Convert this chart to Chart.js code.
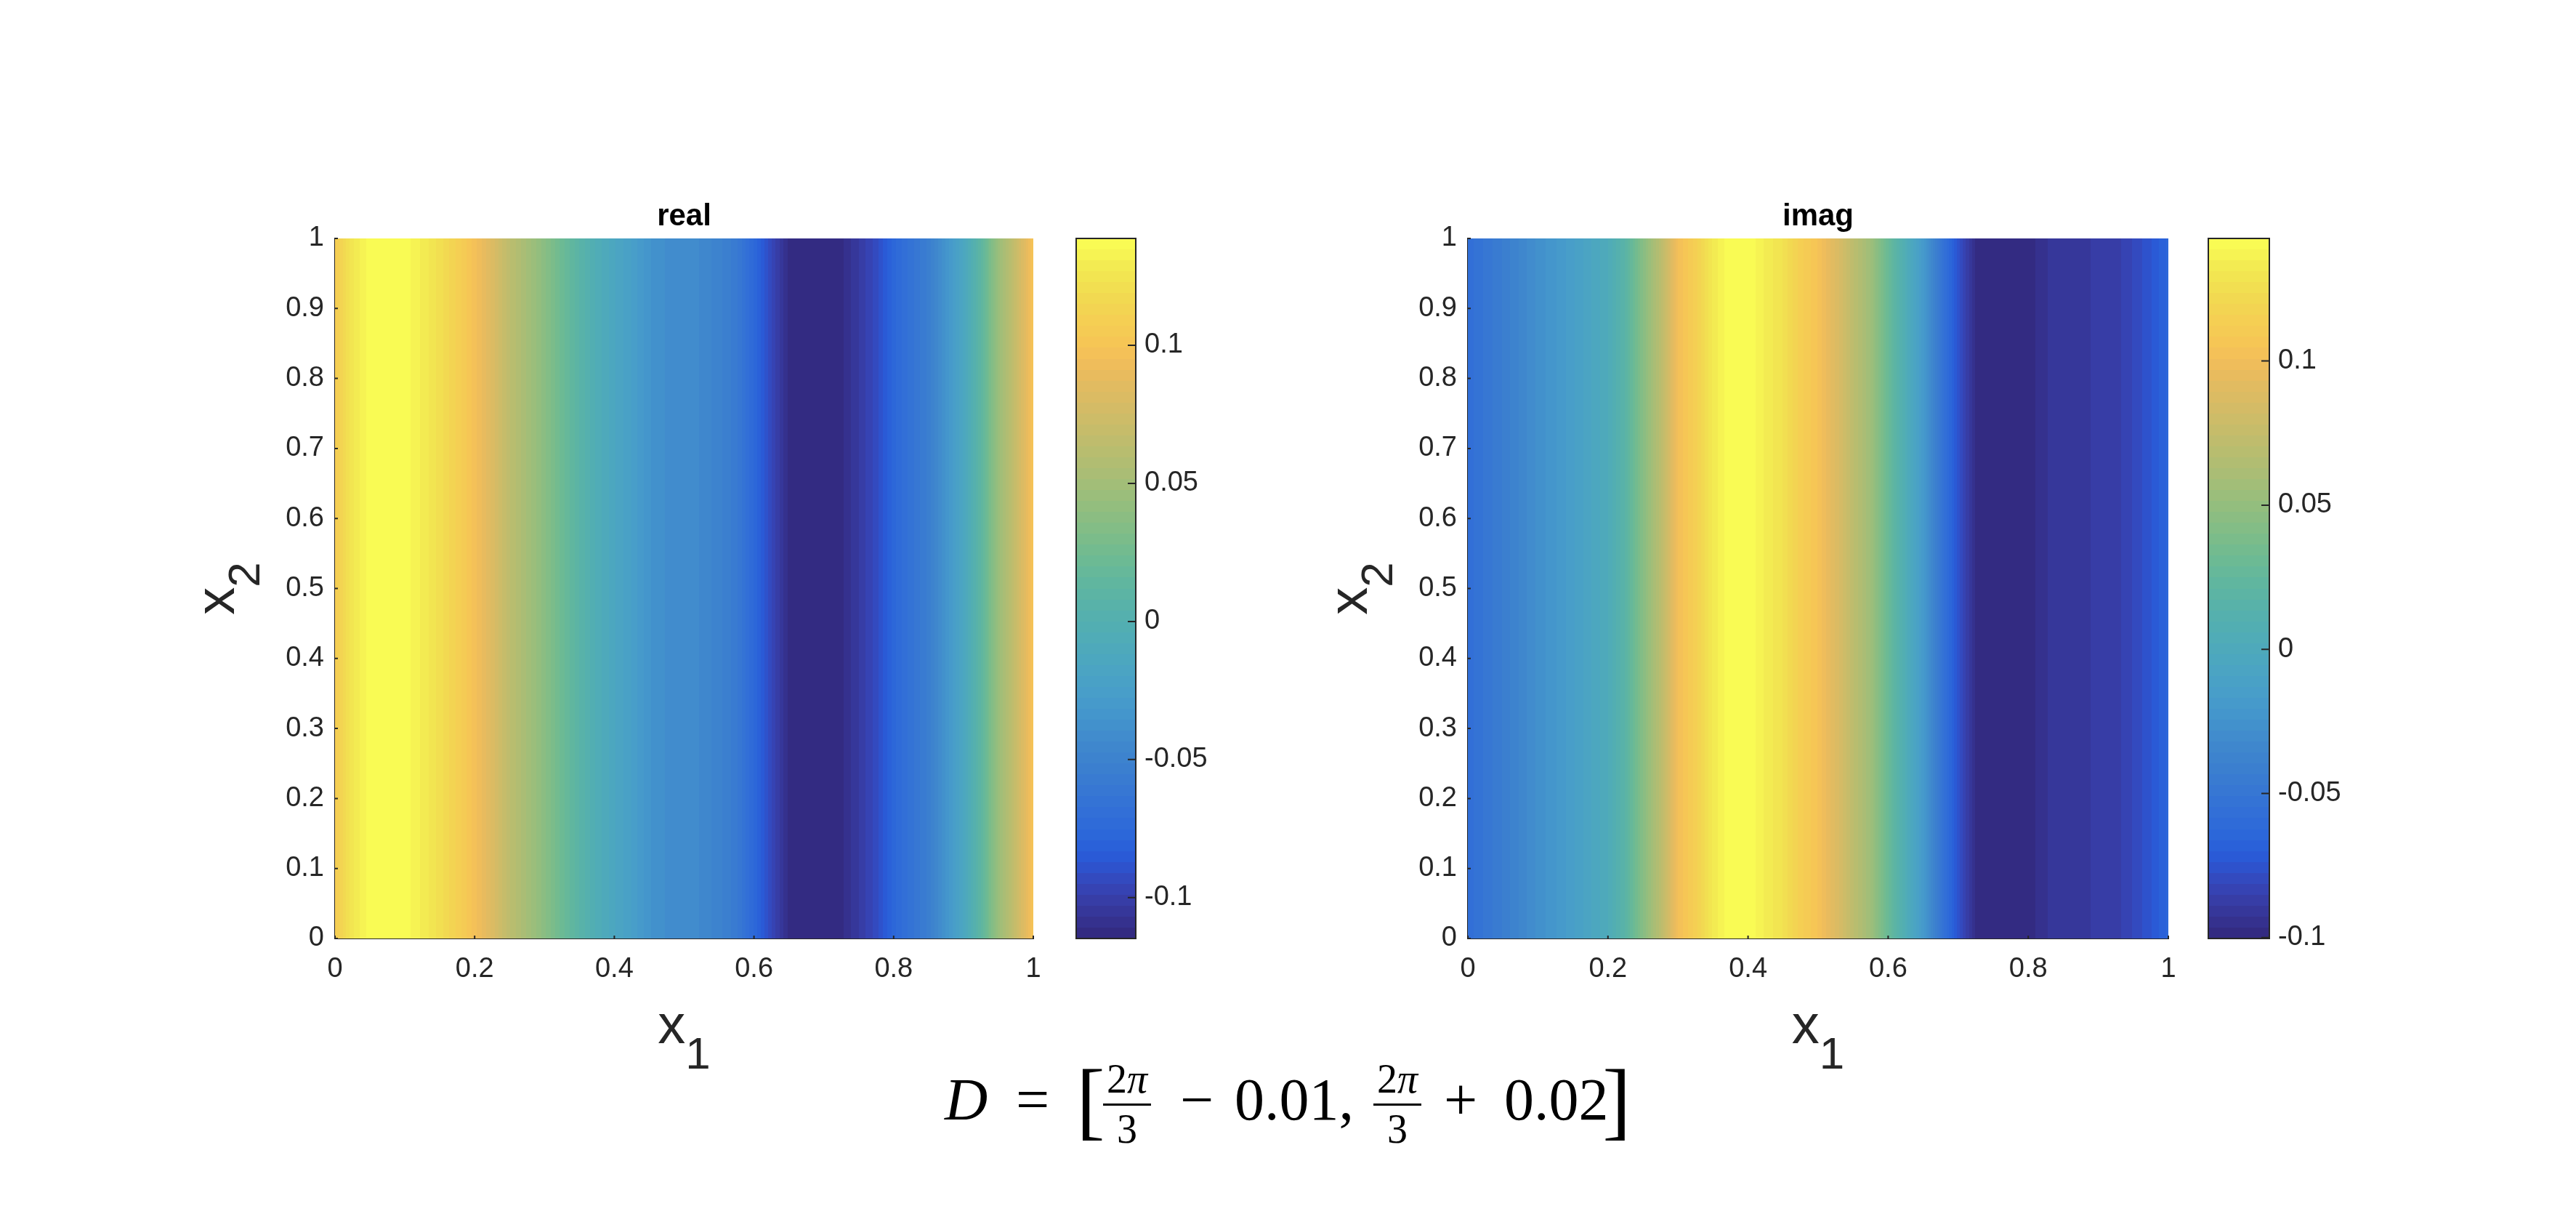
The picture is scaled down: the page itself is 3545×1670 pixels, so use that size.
<!DOCTYPE html>
<html><head><meta charset="utf-8">
<script src="https://cdn.jsdelivr.net/npm/chart.js@4.4.1/dist/chart.umd.min.js"></script>
<style>
html,body{margin:0;padding:0;background:#fff;width:3545px;height:1670px;overflow:hidden}
canvas{position:absolute;left:0;top:0}
</style></head><body>
<canvas id="heatL" width="3545" height="1670"></canvas>
<canvas id="cbL" width="3545" height="1670"></canvas>
<canvas id="heatR" width="3545" height="1670"></canvas>
<canvas id="cbR" width="3545" height="1670"></canvas>
<script>
// ---------------- data ----------------
const x1Grid = [0,0.025,0.05,0.075,0.1,0.125,0.15,0.175,0.2,0.225,0.25,0.275,0.3,0.325,0.35,0.375,0.4,0.425,0.45,0.475,0.5,0.525,0.55,0.575,0.6,0.625,0.65,0.675,0.7,0.725,0.75,0.775,0.8,0.825,0.85,0.875,0.9,0.925,0.95,0.975,1];
const realValues = [0.106,0.126,0.137,0.1387,0.137,0.130,0.121,0.110,0.097,0.082,0.064,0.051,0.037,0.022,0.008,-0.005,-0.015,-0.024,-0.035,-0.040,-0.041,-0.044,-0.050,-0.058,-0.076,-0.095,-0.112,-0.1148,-0.1148,-0.112,-0.103,-0.093,-0.077,-0.065,-0.054,-0.035,-0.015,0.012,0.045,0.070,0.100];
const imagValues = [-0.057,-0.050,-0.043,-0.035,-0.027,-0.021,-0.014,-0.006,0.002,0.018,0.044,0.069,0.101,0.114,0.132,0.1425,0.1425,0.134,0.127,0.114,0.104,0.089,0.071,0.055,0.029,0.005,-0.019,-0.050,-0.076,-0.097,-0.1003,-0.1003,-0.099,-0.093,-0.090,-0.090,-0.088,-0.087,-0.081,-0.074,-0.065];
const realClim = [-0.1148, 0.1387];
const imagClim = [-0.1003, 0.1425];
const panelTitles = ['real', 'imag'];
const x1Ticks = [0,0.2,0.4,0.6,0.8,1];
const x1TickLabels = ['0','0.2','0.4','0.6','0.8','1'];
const x2Ticks = [0,0.1,0.2,0.3,0.4,0.5,0.6,0.7,0.8,0.9,1];
const x2TickLabels = ['0','0.1','0.2','0.3','0.4','0.5','0.6','0.7','0.8','0.9','1'];
const cbTicks = [-0.1,-0.05,0,0.05,0.1];
const cbTickLabels = ['-0.1','-0.05','0','0.05','0.1'];

// ---------------- style ----------------
const W = 3545, H = 1670;
const PLOT_TOP = 328, PLOT_BOTTOM = 1291;
const FONT = "'Liberation Sans', Helvetica, Arial, sans-serif";
const SERIF = "'Liberation Serif', 'DejaVu Serif', serif";
const TXT = '#262626';
const TICK_SIZE = 38;
const parula = [[.2081,.1663,.5292],[.2116,.1898,.5777],[.2123,.2138,.6270],[.2081,.2386,.6771],[.1959,.2645,.7279],[.1707,.2919,.7792],[.1253,.3242,.8303],[.0591,.3598,.8683],[.0117,.3875,.8820],[.0060,.4086,.8828],[.0165,.4266,.8786],[.0329,.4430,.8720],[.0498,.4586,.8641],[.0629,.4737,.8554],[.0723,.4887,.8467],[.0779,.5040,.8384],[.0793,.5200,.8312],[.0749,.5375,.8263],[.0641,.5570,.8240],[.0488,.5772,.8228],[.0343,.5966,.8199],[.0265,.6137,.8135],[.0239,.6287,.8038],[.0231,.6418,.7913],[.0228,.6535,.7768],[.0267,.6642,.7607],[.0384,.6743,.7436],[.0590,.6838,.7254],[.0843,.6928,.7062],[.1133,.7015,.6859],[.1453,.7098,.6646],[.1801,.7177,.6424],[.2178,.7250,.6193],[.2586,.7317,.5954],[.3022,.7376,.5712],[.3482,.7424,.5473],[.3953,.7459,.5244],[.4420,.7481,.5033],[.4871,.7491,.4840],[.5300,.7491,.4661],[.5709,.7485,.4494],[.6099,.7473,.4337],[.6473,.7456,.4188],[.6834,.7435,.4044],[.7184,.7411,.3905],[.7525,.7384,.3768],[.7858,.7356,.3633],[.8185,.7327,.3498],[.8507,.7299,.3360],[.8824,.7274,.3217],[.9139,.7258,.3063],[.9450,.7261,.2886],[.9739,.7314,.2666],[.9938,.7455,.2403],[.9990,.7653,.2164],[.9955,.7861,.1967],[.9880,.8066,.1794],[.9789,.8271,.1633],[.9697,.8481,.1475],[.9626,.8705,.1309],[.9589,.8949,.1132],[.9598,.9218,.0948],[.9661,.9514,.0755],[.9763,.9831,.0538]];
function lin(c){return c<=0.04045?c/12.92:Math.pow((c+0.055)/1.055,2.4);}
function enc(c){c=Math.max(0,Math.min(1,c));return c<=0.0031308?12.92*c:1.055*Math.pow(c,1/2.4)-0.055;}
const cmap = parula.map(([r,g,b])=>{
  const R=lin(r),G=lin(g),B=lin(b);
  const rp=0.8225*R+0.1774*G, gp=0.0332*R+0.9669*G, bp=0.0171*R+0.0724*G+0.9108*B;
  return 'rgb('+Math.round(255*enc(rp))+','+Math.round(255*enc(gp))+','+Math.round(255*enc(bp))+')';
});
function colorFor(v, clim){
  let i = Math.floor((v-clim[0])/(clim[1]-clim[0])*cmap.length);
  i = Math.max(0, Math.min(cmap.length-1, i));
  return cmap[i];
}
function interp(xs, ys, x){
  if (x<=xs[0]) return ys[0];
  for (let i=1;i<xs.length;i++){
    if (x<=xs[i]){const t=(x-xs[i-1])/(xs[i]-xs[i-1]);return ys[i-1]+t*(ys[i]-ys[i-1]);}
  }
  return ys[ys.length-1];
}

function drawSubLabel(ctx, cx, cy, main, sub, rotate){
  ctx.save();
  ctx.translate(cx, cy);
  if (rotate) ctx.rotate(-Math.PI/2);
  ctx.fillStyle = TXT; ctx.textBaseline='alphabetic'; ctx.textAlign='left';
  const fMain = '76px '+FONT, fSub = '62px '+FONT;
  ctx.font = fMain; const w1 = ctx.measureText(main).width;
  ctx.font = fSub; const w2 = ctx.measureText(sub).width;
  const x0 = -(w1+w2)/2;
  ctx.font = fMain; ctx.fillText(main, x0, 0);
  ctx.font = fSub; ctx.fillText(sub, x0+w1, 35);
  ctx.restore();
}

function drawEquation(ctx){
  ctx.save();
  ctx.fillStyle='#000'; ctx.textBaseline='alphabetic';
  const base = 1540, main = "82px "+SERIF, small = "56px "+SERIF;
  ctx.font = 'italic '+main; ctx.textAlign='left'; ctx.fillText('D', 1300, base);
  ctx.font = main; ctx.textAlign='center'; ctx.fillText('=', 1421, base);
  ctx.font = "118px "+SERIF; ctx.fillText('[', 1501, 1553); ctx.fillText(']', 2225, 1553);
  const frac = (cx)=>{
    ctx.font = small; const w2 = ctx.measureText('2').width;
    ctx.font = 'italic '+small; const wp = ctx.measureText('\u03C0').width;
    const s = cx-(w2+wp)/2;
    ctx.textAlign='left';
    ctx.font = small; ctx.fillText('2', s, 1503);
    ctx.font = 'italic '+small; ctx.fillText('\u03C0', s+w2, 1503);
    ctx.fillRect(cx-33, 1518, 66, 3);
    ctx.font = small; ctx.textAlign='center'; ctx.fillText('3', cx, 1572);
  };
  frac(1551); frac(1923);
  ctx.font = main; ctx.textAlign='center'; ctx.fillText('\u2212', 1647, base);
  ctx.textAlign='left'; ctx.fillText('0.01,', 1699, base);
  ctx.textAlign='center'; ctx.fillText('+', 2010, base);
  ctx.textAlign='left'; ctx.fillText('0.02', 2070, base);
  ctx.restore();
}

function heatChart(id, title, values, clim, plotLeft, plotRight, withEquation){
  const plugin = {
    id: 'heat_'+id,
    beforeDatasetsDraw(chart){
      const {ctx, chartArea:a, scales:{x, y}} = chart;
      const yTop = y.getPixelForValue(1), yBot = y.getPixelForValue(0);
      ctx.save();
      let start = Math.round(a.left), prev = null;
      const end = Math.round(a.right);
      for (let px = Math.round(a.left); px <= end; px++){
        const c = px<end ? colorFor(interp(x1Grid, values, x.getValueForPixel(px+0.5)), clim) : null;
        if (c !== prev){
          if (prev){ ctx.fillStyle = prev; ctx.fillRect(start, yTop, px-start, yBot-yTop); }
          start = px; prev = c;
        }
      }
      ctx.strokeStyle = TXT; ctx.lineWidth = 2;
      ctx.beginPath();
      x1Ticks.forEach(v=>{const p=x.getPixelForValue(v); ctx.moveTo(p, yBot); ctx.lineTo(p, yBot-4);});
      x2Ticks.forEach(v=>{const p=y.getPixelForValue(v); ctx.moveTo(a.left, p); ctx.lineTo(a.left+4, p);});
      ctx.stroke();
      ctx.restore();
    },
    afterDraw(chart){
      const {ctx, chartArea:a} = chart;
      drawSubLabel(ctx, (a.left+a.right)/2, 1435, 'x', '1', false);
      drawSubLabel(ctx, a.left-139, (a.top+a.bottom)/2, 'x', '2', true);
      if (withEquation) drawEquation(ctx);
    }
  };
  return new Chart(document.getElementById(id), {
    type: 'scatter',
    data: { datasets: [{ data: x1Grid.map((v,i)=>({x:v, y:0.5})), pointRadius: 0, pointHoverRadius:0 }] },
    options: {
      responsive:false, animation:false, devicePixelRatio:1, events:[],
      layout:{padding:{left:0, right:W-plotRight, top:273, bottom:0}},
      plugins:{legend:{display:false}, tooltip:{enabled:false},
        title:{display:true, text:title, fullSize:false, color:'#000',
               font:{family:FONT, size:42, weight:'bold', lineHeight:1.2}, padding:{top:0,bottom:4.6}}},
      scales:{
        x:{type:'linear', position:'bottom', min:0, max:1,
           afterFit:s=>{s.height = H-PLOT_BOTTOM;},
           afterBuildTicks:s=>{s.ticks = x1Ticks.map(v=>({value:v}));},
           ticks:{autoSkip:false, maxRotation:0, minRotation:0, padding:20, color:TXT,
                  font:{family:FONT, size:TICK_SIZE}, callback:(v,i)=>x1TickLabels[i]},
           grid:{drawOnChartArea:false, drawTicks:false},
           border:{display:true, color:TXT, width:2}},
        y:{type:'linear', position:'left', min:0, max:1,
           afterFit:s=>{s.width = plotLeft;},
           afterBuildTicks:s=>{s.ticks = x2Ticks.map(v=>({value:v}));},
           ticks:{autoSkip:false, padding:15, color:TXT,
                  font:{family:FONT, size:TICK_SIZE}, callback:(v,i)=>x2TickLabels[i]},
           grid:{drawOnChartArea:false, drawTicks:false},
           border:{display:true, color:TXT, width:2}}
      }
    },
    plugins:[plugin]
  });
}

function colorbarChart(id, clim, left, right){
  const plugin = {
    id:'cb_'+id,
    beforeDatasetsDraw(chart){
      const {ctx, chartArea:a, scales:{y}} = chart;
      ctx.save();
      let start = Math.round(a.top), prev = null;
      const end = Math.round(a.bottom);
      for (let py = Math.round(a.top); py <= end; py++){
        const c = py<end ? colorFor(y.getValueForPixel(py+0.5), clim) : null;
        if (c !== prev){
          if (prev){ ctx.fillStyle = prev; ctx.fillRect(a.left, start, a.right-a.left, py-start); }
          start = py; prev = c;
        }
      }
      ctx.strokeStyle = TXT; ctx.lineWidth = 2;
      ctx.strokeRect(a.left, a.top, a.right-a.left, a.bottom-a.top);
      ctx.beginPath();
      cbTicks.forEach(v=>{const p=y.getPixelForValue(v); ctx.moveTo(a.right, p); ctx.lineTo(a.right-11, p);});
      ctx.stroke();
      ctx.restore();
    }
  };
  return new Chart(document.getElementById(id), {
    type:'scatter',
    data:{datasets:[{data:cbTicks.map(v=>({x:0.5, y:v})), pointRadius:0, pointHoverRadius:0}]},
    options:{
      responsive:false, animation:false, devicePixelRatio:1, events:[],
      layout:{padding:{left:left, right:0, top:PLOT_TOP, bottom:H-PLOT_BOTTOM}},
      plugins:{legend:{display:false}, tooltip:{enabled:false}, title:{display:false}},
      scales:{
        x:{type:'linear', display:false, min:0, max:1},
        y:{type:'linear', position:'right', min:clim[0], max:clim[1],
           afterFit:s=>{s.width = W-right;},
           afterBuildTicks:s=>{s.ticks = cbTicks.map(v=>({value:v}));},
           ticks:{autoSkip:false, padding:12, color:TXT, font:{family:FONT, size:TICK_SIZE},
                  callback:(v,i)=>cbTickLabels[i]},
           grid:{display:false, drawTicks:false},
           border:{display:false}}
      }
    },
    plugins:[plugin]
  });
}

heatChart('heatL', panelTitles[0], realValues, realClim, 461, 1422, true);
colorbarChart('cbL', realClim, 1481, 1563);
heatChart('heatR', panelTitles[1], imagValues, imagClim, 2020, 2984, false);
colorbarChart('cbR', imagClim, 3039, 3123);
</script>
</body></html>
